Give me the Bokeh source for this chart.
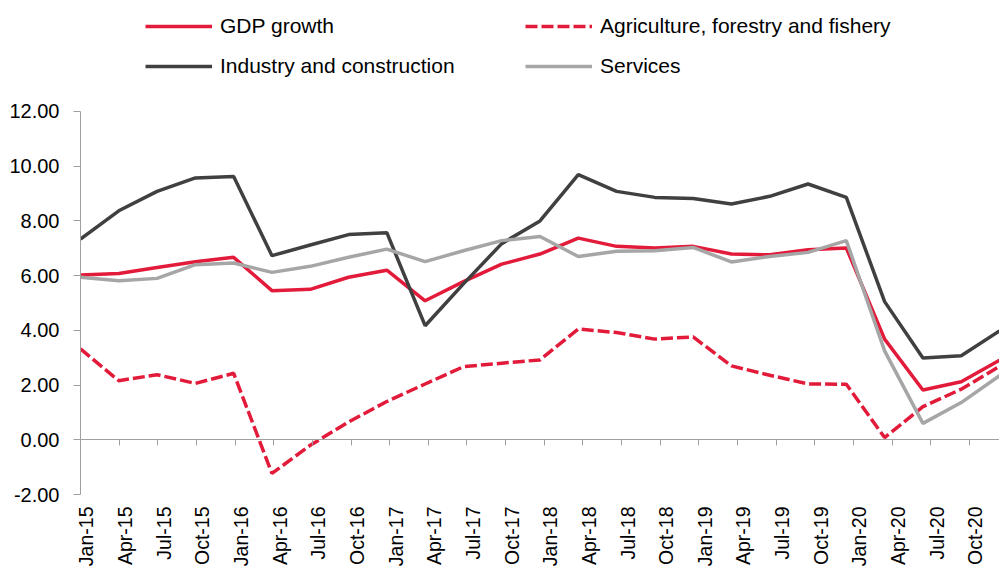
import math
from bokeh.plotting import figure
from bokeh.models import Range1d, LinearAxis, FixedTicker, NumeralTickFormatter, Legend, LegendItem
from bokeh.embed import file_html
from bokeh.resources import INLINE

categories = ["Jan-15", "Apr-15", "Jul-15", "Oct-15", "Jan-16", "Apr-16", "Jul-16", "Oct-16",
              "Jan-17", "Apr-17", "Jul-17", "Oct-17", "Jan-18", "Apr-18", "Jul-18", "Oct-18",
              "Jan-19", "Apr-19", "Jul-19", "Oct-19", "Jan-20", "Apr-20", "Jul-20", "Oct-20",
              "Jan-21"]

gdp_growth = [6.02, 6.08, 6.30, 6.51, 6.67, 5.45, 5.50, 5.94, 6.20, 5.08, 5.78, 6.42,
              6.79, 7.37, 7.07, 7.01, 7.07, 6.79, 6.76, 6.95, 7.01, 3.68, 1.82, 2.12, 2.91]
agriculture = [3.32, 2.16, 2.38, 2.06, 2.43, -1.23, -0.20, 0.65, 1.40, 2.04, 2.67, 2.80,
               2.92, 4.05, 3.92, 3.68, 3.76, 2.70, 2.36, 2.04, 2.03, 0.08, 1.21, 1.85, 2.68]
industry = [7.34, 8.37, 9.08, 9.57, 9.62, 6.73, 7.12, 7.50, 7.57, 4.17, 5.70, 7.17,
            8.00, 9.69, 9.08, 8.86, 8.82, 8.62, 8.90, 9.35, 8.86, 5.05, 2.99, 3.07, 3.98]
services = [5.94, 5.81, 5.90, 6.40, 6.46, 6.12, 6.34, 6.67, 6.97, 6.51, 6.91, 7.28,
            7.43, 6.70, 6.89, 6.91, 7.03, 6.50, 6.70, 6.85, 7.28, 3.25, 0.60, 1.36, 2.34]

y_ticks = [-2, 0, 2, 4, 6, 8, 10, 12]

FONT = "Liberation Sans"
RED = "#E31B3B"
DARK = "#404040"
LIGHT = "#A6A6A6"
AXIS = "#A0A0A0"

xs = list(range(len(categories)))
data_end = 24.0      # visible span for the data points
tick_end = 23.78     # tick spacing of the date axis is slightly wider
shift = 0.155        # label offset to the right of each tick
y_top = 16.057       # leaves room for the legend above the 12.00 line

p = figure(width=999, height=569, output_backend="svg", toolbar_location=None,
           x_range=Range1d(0, data_end), y_range=Range1d(-2, y_top),
           min_border_left=80, min_border_right=0, min_border_top=0, min_border_bottom=75,
           x_axis_location=None, y_axis_location="left")
p.grid.visible = False
p.outline_line_color = None
p.background_fill_color = "white"

# y axis
ya = p.yaxis[0]
ya.ticker = FixedTicker(ticks=y_ticks)
ya.bounds = (-2, 12)
ya.formatter = NumeralTickFormatter(format="0.00")
ya.minor_tick_line_color = None
ya.major_tick_out = 7
ya.major_tick_in = 0
ya.major_tick_line_color = AXIS
ya.axis_line_color = AXIS
ya.major_label_standoff = 14
ya.major_label_text_font = FONT
ya.major_label_text_font_size = "20px"
ya.major_label_text_color = "black"

p.extra_x_ranges = {"ticks": Range1d(0, tick_end),
                    "labels": Range1d(-shift, tick_end - shift)}

# x labels axis (bottom)
lab_axis = LinearAxis(x_range_name="labels", ticker=FixedTicker(ticks=xs),
                      major_label_overrides={i: c for i, c in enumerate(categories)},
                      major_label_orientation=math.pi / 2,
                      axis_line_color=None, major_tick_line_color=None,
                      minor_tick_line_color=None, major_tick_out=0, major_tick_in=0,
                      major_label_standoff=12, major_label_text_font=FONT,
                      major_label_text_font_size="19.5px", major_label_text_color="black")
p.add_layout(lab_axis, "below")

# x axis line at zero
zero_axis = LinearAxis(x_range_name="ticks", fixed_location=0, ticker=FixedTicker(ticks=xs),
                       major_tick_out=6, major_tick_in=0, major_tick_line_color=AXIS,
                       minor_tick_line_color=None, axis_line_color=AXIS,
                       major_label_text_font_size="0px", major_label_text_color=None)
p.add_layout(zero_axis, "below")

r_gdp = p.line(xs, gdp_growth, line_color=RED, line_width=3.5)
r_agr = p.line(xs, agriculture, line_color=RED, line_width=3.5, line_dash="12 4")
r_ind = p.line(xs, industry, line_color=DARK, line_width=3.5)
r_ser = p.line(xs, services, line_color=LIGHT, line_width=3.5)


def make_legend(items, loc):
    return Legend(items=items, location=loc, orientation="vertical",
                  padding=0, margin=0, spacing=16, glyph_width=67, glyph_height=24,
                  label_height=24, label_standoff=8, label_text_font=FONT,
                  label_text_font_size="21px", label_text_color="black",
                  border_line_color=None, background_fill_alpha=0)


leg1 = make_legend([LegendItem(label="GDP growth", renderers=[r_gdp]),
                    LegendItem(label="Industry and construction", renderers=[r_ind])], (65, 416))
leg2 = make_legend([LegendItem(label="Agriculture, forestry and fishery", renderers=[r_agr]),
                    LegendItem(label="Services", renderers=[r_ser])], (445, 416))
p.add_layout(leg1, "center")
p.add_layout(leg2, "center")

open("out.html", "w").write(file_html(p, INLINE))
